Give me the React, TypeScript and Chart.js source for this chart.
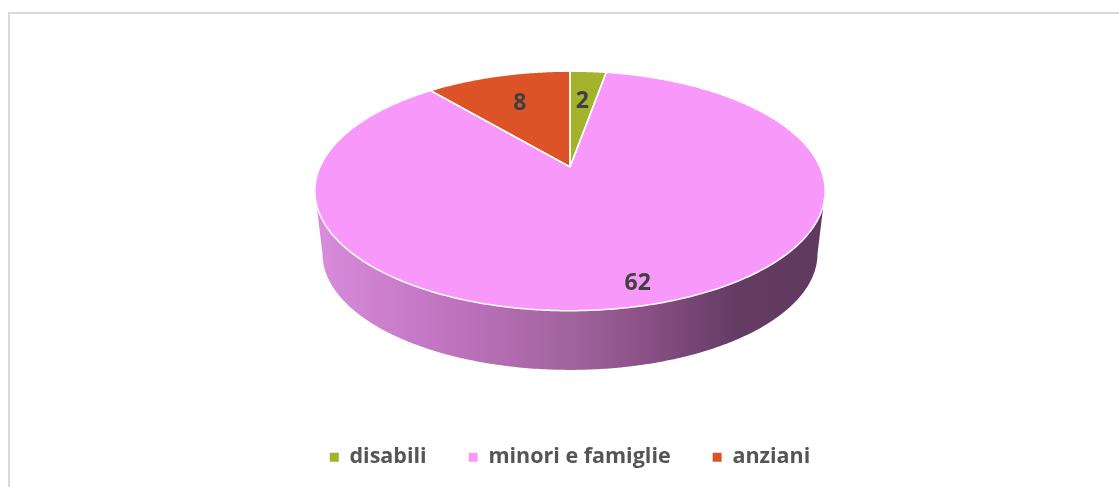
import React, { useEffect, useRef } from 'react';
import { Chart, registerables } from 'chart.js';

Chart.register(...registerables);

// ---- data ----
const categories = ['disabili', 'minori e famiglie', 'anziani'];
const values = [2, 62, 8];

// ---- styles ----
const TOP_COLORS = ['#A3B42C', '#F898FA', '#DB5326'];
const SIDE_STOPS: [number, string][][] = [
  [[0, '#BCC94F'], [0.5, '#8A9824'], [0.83, '#5A6418'], [1, '#555E16']],
  [[0, '#DA8CDD'], [0.25, '#C174C0'], [0.5, '#A2639E'], [0.66, '#874F83'], [0.83, '#633B63'], [1, '#603960']],
  [[0, '#E87A55'], [0.5, '#B0441E'], [0.83, '#7A2E15'], [1, '#732B13']],
];
const LABEL_RADIUS = [0.64, 0.87, 0.66];
const TILT = 0.46;
const PERSP = 0.2;
const DEPTH = 0.254;
const BOTTOM_SCALE = 0.97;
const FONT = "'Open Sans', sans-serif";

const pie3d = {
  id: 'pie3d',
  beforeDatasetsDraw(chart: any) {
    const ctx: CanvasRenderingContext2D = chart.ctx;
    const meta = chart.getDatasetMeta(0);
    const arcs = meta.data as any[];
    if (!arcs.length) return false;
    const R = arcs[0].outerRadius;
    const k = PERSP;
    const s = BOTTOM_SCALE;
    const B = R * TILT;
    const D = R * DEPTH;
    const cx = arcs[0].x;
    const cy = arcs[0].y - (D + (s * B) / (1 - k) - B / (1 + k)) / 2;

    const P = (t: number, f: number, bottom: boolean): [number, number] => {
      const u = f * Math.cos(t);
      const v = f * Math.sin(t);
      const w = 1 - k * v;
      const sc = bottom ? s : 1;
      return [cx + (R * sc * u) / w, cy + (bottom ? D : 0) + (B * sc * v) / w];
    };
    const STEP = 0.01;
    const arcPts = (a: number, b: number, bottom: boolean) => {
      const pts: [number, number][] = [];
      const n = Math.max(2, Math.ceil(Math.abs(b - a) / STEP));
      for (let i = 0; i <= n; i++) pts.push(P(a + ((b - a) * i) / n, 1, bottom));
      return pts;
    };

    ctx.save();
    // ---- side walls (front visible part) ----
    const ts = Math.asin(k);
    const vis0 = ts;
    const vis1 = Math.PI - ts;
    const ext = R * 1.0206;
    arcs.forEach((arc, i) => {
      for (let m = -1; m <= 1; m++) {
        const lo = Math.max(arc.startAngle, vis0 + m * 2 * Math.PI);
        const hi = Math.min(arc.endAngle, vis1 + m * 2 * Math.PI);
        if (hi <= lo) continue;
        const top = arcPts(lo, hi, false);
        const bot = arcPts(hi, lo, true);
        ctx.beginPath();
        top.forEach(([x, y], j) => (j ? ctx.lineTo(x, y) : ctx.moveTo(x, y)));
        bot.forEach(([x, y]) => ctx.lineTo(x, y));
        ctx.closePath();
        const g = ctx.createLinearGradient(cx - ext, 0, cx + ext, 0);
        SIDE_STOPS[i % SIDE_STOPS.length].forEach(([o, c]) => g.addColorStop(o, c));
        ctx.fillStyle = g;
        ctx.fill();
      }
    });

    // ---- top face ----
    const center = P(0, 0, false);
    arcs.forEach((arc, i) => {
      const pts = arcPts(arc.startAngle, arc.endAngle, false);
      ctx.beginPath();
      ctx.moveTo(center[0], center[1]);
      pts.forEach(([x, y]) => ctx.lineTo(x, y));
      ctx.closePath();
      ctx.fillStyle = TOP_COLORS[i % TOP_COLORS.length];
      ctx.fill();
    });
    arcs.forEach((arc) => {
      const pts = arcPts(arc.startAngle, arc.endAngle, false);
      ctx.beginPath();
      ctx.moveTo(center[0], center[1]);
      pts.forEach(([x, y]) => ctx.lineTo(x, y));
      ctx.closePath();
      ctx.strokeStyle = '#FFFFFF';
      ctx.lineWidth = 1.5;
      ctx.lineJoin = 'round';
      ctx.stroke();
    });

    // ---- labels ----
    ctx.font = `bold 23px ${FONT}`;
    ctx.fillStyle = '#404040';
    ctx.textAlign = 'center';
    ctx.textBaseline = 'middle';
    arcs.forEach((arc, i) => {
      const mid = (arc.startAngle + arc.endAngle) / 2;
      const [x, y] = P(mid, LABEL_RADIUS[i % LABEL_RADIUS.length], false);
      ctx.fillText(String(values[i]), x, y);
    });
    ctx.restore();
    return false;
  },
};

export default function App() {
  const ref = useRef<HTMLCanvasElement>(null);
  useEffect(() => {
    const chart = new Chart(ref.current as HTMLCanvasElement, {
      type: 'pie',
      data: {
        labels: categories,
        datasets: [
          {
            data: values,
            backgroundColor: TOP_COLORS,
            borderWidth: 0,
            radius: 250,
          } as any,
        ],
      },
      options: {
        responsive: false,
        animation: false,
        events: [],
        layout: { padding: { top: 22.5, left: 11, right: 0, bottom: 9 } },
        plugins: {
          tooltip: { enabled: false },
          legend: {
            position: 'bottom',
            labels: {
              boxWidth: 9,
              boxHeight: 9,
              padding: 42,
              color: '#555555',
              font: { family: FONT, size: 21.5, weight: 'bold' },
            },
          },
        },
      },
      plugins: [pie3d],
    });
    return () => chart.destroy();
  }, []);
  return (
    <div
      style={{
        position: 'absolute',
        left: 8,
        top: 12,
        width: 1111,
        height: 475,
        borderTop: '2px solid #D9D9D9',
        borderLeft: '2px solid #D9D9D9',
        boxSizing: 'border-box',
        overflow: 'hidden',
        background: '#FFFFFF',
      }}
    >
      <canvas ref={ref} width={1109} height={473} style={{ display: 'block', width: 1109, height: 473 }} />
    </div>
  );
}
